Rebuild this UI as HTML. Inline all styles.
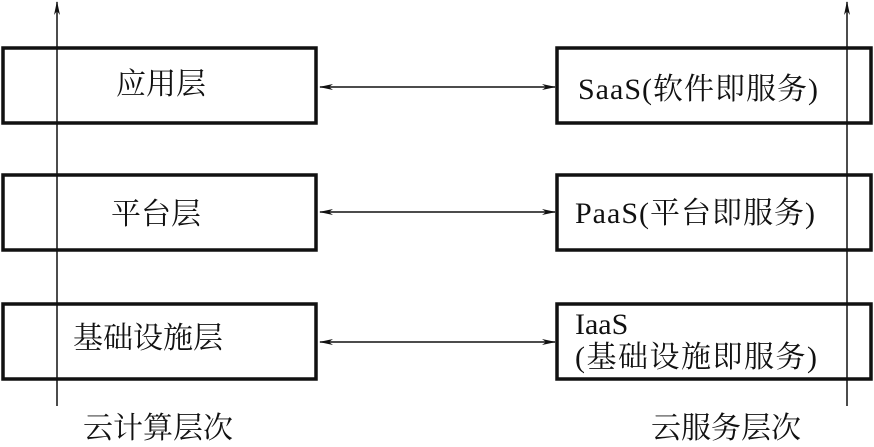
<!DOCTYPE html>
<html><head><meta charset="utf-8"><style>
body{margin:0;background:#fff;}
svg text{font-family:"Liberation Serif","Noto Serif CJK SC",serif;fill:#111;}
</style></head><body>
<svg width="874" height="442" viewBox="0 0 874 442" xmlns="http://www.w3.org/2000/svg">
<defs>
<marker id="a" markerWidth="14" markerHeight="8" refX="13" refY="4" orient="auto-start-reverse" markerUnits="userSpaceOnUse">
<path d="M0,1 L14,4 L0,7 L4,4 Z" fill="#111"/></marker>
</defs>
<g fill="none" stroke="#111" stroke-width="3.5">
<rect x="3" y="48" width="313" height="75"/>
<rect x="3" y="175" width="313" height="75"/>
<rect x="3" y="304" width="313" height="75"/>
<rect x="557" y="48" width="314" height="75"/>
<rect x="557" y="175" width="314" height="75"/>
<rect x="557" y="304" width="314" height="75"/>
</g>
<g stroke="#111" stroke-width="1.5" fill="none">
<line x1="57" y1="406" x2="57" y2="2" marker-end="url(#a)"/>
<line x1="847" y1="406" x2="847" y2="2" marker-end="url(#a)"/>
<line x1="320" y1="87" x2="555" y2="87" marker-start="url(#a)" marker-end="url(#a)"/>
<line x1="320" y1="212" x2="555" y2="212" marker-start="url(#a)" marker-end="url(#a)"/>
<line x1="320" y1="342" x2="555" y2="342" marker-start="url(#a)" marker-end="url(#a)"/>
</g>
<g font-size="30">
<text x="116" y="94">应用层</text>
<text x="111" y="224">平台层</text>
<text x="73" y="348">基础设施层</text>
<text x="578" y="99" textLength="240">SaaS(软件即服务)</text>
<text x="575" y="223" textLength="240">PaaS(平台即服务)</text>
<text x="575" y="334">IaaS</text>
<text x="575" y="367" textLength="242">(基础设施即服务)</text>
<text x="83" y="438">云计算层次</text>
<text x="651" y="438">云服务层次</text>
</g>
</svg>
</body></html>
